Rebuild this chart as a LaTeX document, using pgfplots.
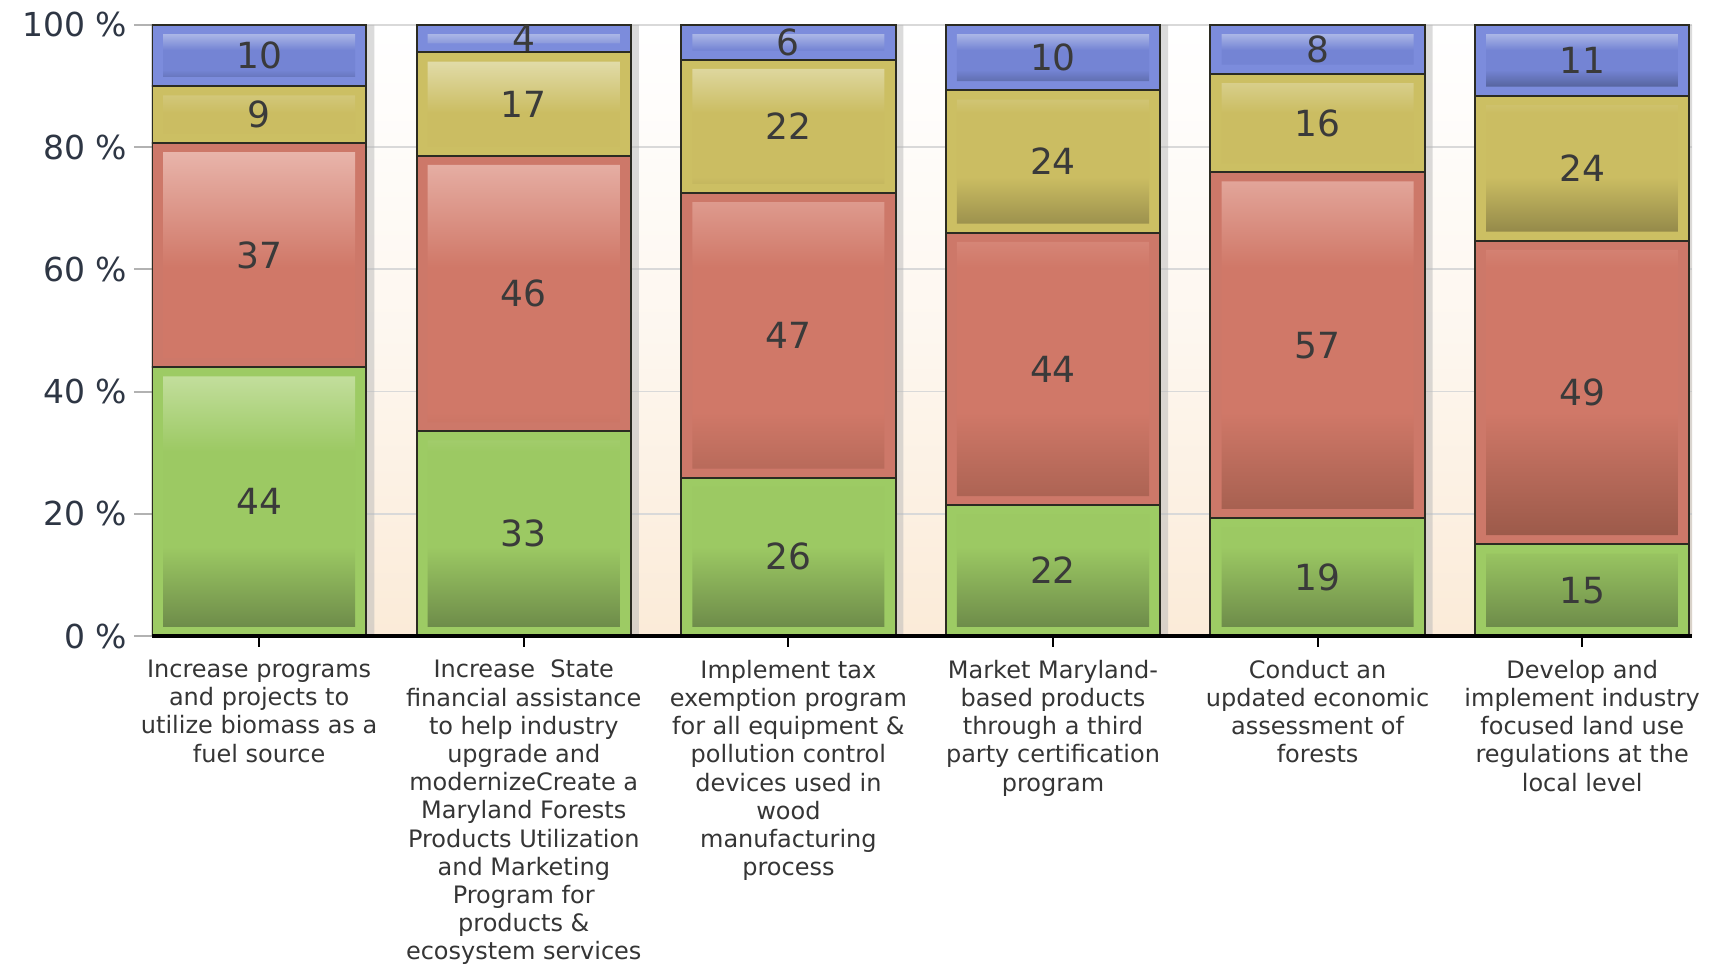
\documentclass[border=0pt]{standalone}
\usepackage{fontspec}
\setmainfont{DejaVu Sans}
\usepackage{pgfplots}
\pgfplotsset{compat=1.18}
\usepackage{pgfplotstable}

\definecolor{gOut}{HTML}{9DCB64}
\definecolor{gTop}{HTML}{C2DE9C}
\definecolor{gMid}{HTML}{9CC963}
\definecolor{gBot}{HTML}{6E8C4A}
\definecolor{rOut}{HTML}{CD7869}
\definecolor{rTop}{HTML}{E8B4AA}
\definecolor{rMid}{HTML}{D07868}
\definecolor{rBot}{HTML}{9C5A4A}
\definecolor{yOut}{HTML}{CCBF63}
\definecolor{yTop}{HTML}{E1DBA8}
\definecolor{yMid}{HTML}{CBBD62}
\definecolor{yBot}{HTML}{948A4A}
\definecolor{bOut}{HTML}{7C8CDC}
\definecolor{bTop}{HTML}{AAB6E6}
\definecolor{bMid}{HTML}{7484D4}
\definecolor{bBot}{HTML}{56649E}
\definecolor{cream}{HTML}{FBEBD8}
\definecolor{bord}{HTML}{2B2B22}
\definecolor{valtxt}{HTML}{3A3A3A}
\definecolor{ticktxt}{HTML}{2E3644}
\definecolor{cattxt}{HTML}{353535}

\pgfdeclareverticalshading{gsh}{100bp}{color(0bp)=(gBot); color(25bp)=(gBot); color(41bp)=(gMid); color(60bp)=(gMid); color(75bp)=(gTop); color(100bp)=(gTop)}
\pgfdeclareverticalshading{rsh}{100bp}{color(0bp)=(rBot); color(25bp)=(rBot); color(41bp)=(rMid); color(60bp)=(rMid); color(75bp)=(rTop); color(100bp)=(rTop)}
\pgfdeclareverticalshading{ysh}{100bp}{color(0bp)=(yBot); color(25bp)=(yBot); color(41bp)=(yMid); color(60bp)=(yMid); color(75bp)=(yTop); color(100bp)=(yTop)}
\pgfdeclareverticalshading{bsh}{100bp}{color(0bp)=(bBot); color(25bp)=(bBot); color(41bp)=(bMid); color(60bp)=(bMid); color(75bp)=(bTop); color(100bp)=(bTop)}

\pgfplotstableread{
x gr rd ye bl lgr lrd lye lbl
0 44.0 36.7 9.3 10.0 44 37 9 10
1 33.5 45.1 16.9 4.5 33 46 17 4
2 25.9 46.6 21.8 5.7 26 47 22 6
3 21.4 44.6 23.3 10.7 22 44 24 10
4 19.3 56.6 16.1 8.0 19 57 16 8
5 15.0 49.7 23.7 11.6 15 49 24 11
}\data

\pgfplotsset{base/.style={scale only axis, width=770pt, height=305.5pt,
  xmin=-0.405, xmax=5.415, ymin=0, ymax=100}}

\begin{document}
\begin{tikzpicture}
% background, grid, y ticks, shadows
\begin{axis}[base,
  axis line style={draw=none},
  axis background/.style={shade, top color=white, bottom color=cream, middle color=white!60!cream},
  ymajorgrids, grid style={gray!30, line width=0.9pt},
  ytick={0,20,...,100}, yticklabels={0 \%,20 \%,40 \%,60 \%,80 \%,100 \%},
  ytick pos=left, tick align=outside, major tick length=9pt,
  ytick style={gray!60, line width=1pt},
  xtick=\empty,
  yticklabel style={font=\fontsize{16.5}{18}\selectfont, text=ticktxt},
  ybar, bar width=0.03, bar shift=0.42]
\addplot[fill=gray!55, draw=none, fill opacity=0.5] table[x=x, y expr=100]{\data};
\end{axis}
% outer bars
\begin{axis}[base, hide axis, ybar stacked, bar width=0.81]
\addplot[fill=gOut, draw=bord, line width=1pt] table[x=x,y=gr]{\data};
\addplot[fill=rOut, draw=bord, line width=1pt] table[x=x,y=rd]{\data};
\addplot[fill=yOut, draw=bord, line width=1pt] table[x=x,y=ye]{\data};
\addplot[fill=bOut, draw=bord, line width=1pt] table[x=x,y=bl]{\data};
\end{axis}
% inner shaded bars
\begin{axis}[base, hide axis, ybar stacked, bar width=0.726]
\addplot[draw=none, fill=none] table[x=x, y expr=1.5]{\data};
\addplot[draw=none, shade, shading=gsh] table[x=x, y expr=\thisrow{gr}-3]{\data};
\addplot[draw=none, fill=none] table[x=x, y expr=3]{\data};
\addplot[draw=none, shade, shading=rsh] table[x=x, y expr=\thisrow{rd}-3]{\data};
\addplot[draw=none, fill=none] table[x=x, y expr=3]{\data};
\addplot[draw=none, shade, shading=ysh] table[x=x, y expr=\thisrow{ye}-3]{\data};
\addplot[draw=none, fill=none] table[x=x, y expr=3]{\data};
\addplot[draw=none, shade, shading=bsh] table[x=x, y expr=\thisrow{bl}-3]{\data};
\end{axis}
% labels, x axis
\begin{axis}[base, axis x line*=bottom, axis y line=none,
  x axis line style={draw=black, line width=1.6pt, -},
  xtick={0,...,5},
  xticklabels={
    {Increase programs\\and projects to\\utilize biomass as a\\fuel source},
    {Increase\ \ State\\financial assistance\\to help industry\\upgrade and\\modernizeCreate a\\Maryland Forests\\Products Utilization\\and Marketing\\Program for\\products \&\\ecosystem services},
    {Implement tax\\exemption program\\for all equipment \&\\pollution control\\devices used in\\wood\\manufacturing\\process},
    {Market Maryland-\\based products\\through a third\\party certification\\program},
    {Conduct an\\updated economic\\assessment of\\forests},
    {Develop and\\implement industry\\focused land use\\regulations at the\\local level}},
  tick align=outside, major tick length=5.5pt,
  xtick style={black, line width=1pt},
  xticklabel style={align=center, font=\fontsize{12}{14.1}\selectfont, text=cattxt, anchor=north, yshift=-3pt},
  nodes near coords, point meta=explicit symbolic,
  every node near coord/.append style={anchor=center, font=\fontsize{18}{20}\selectfont, text=valtxt}]
\addplot[draw=none] table[x=x, y expr=\thisrow{gr}/2, meta=lgr]{\data};
\addplot[draw=none] table[x=x, y expr=\thisrow{gr}+\thisrow{rd}/2, meta=lrd]{\data};
\addplot[draw=none] table[x=x, y expr=\thisrow{gr}+\thisrow{rd}+\thisrow{ye}/2, meta=lye]{\data};
\addplot[draw=none] table[x=x, y expr=\thisrow{gr}+\thisrow{rd}+\thisrow{ye}+\thisrow{bl}/2, meta=lbl]{\data};
\coordinate (SW) at (rel axis cs:0,0);
\coordinate (NE) at (rel axis cs:1,1);
\end{axis}
\path (SW) ++(-76pt,-165.5pt) coordinate (A);
\path (NE) ++(9.5pt,12.5pt) coordinate (B);
\pgfresetboundingbox
\path (A) rectangle (B);
\end{tikzpicture}
\end{document}
